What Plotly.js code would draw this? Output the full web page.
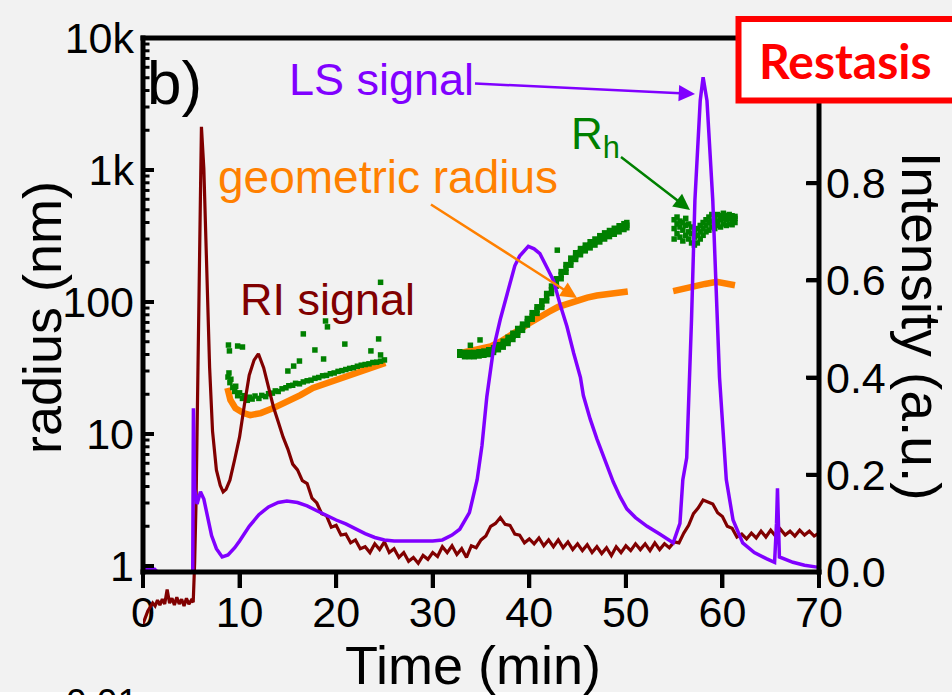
<!DOCTYPE html>
<html>
<head>
<meta charset="utf-8">
<script src="https://cdn.plot.ly/plotly-3.0.1.min.js"></script>
<style>html,body{margin:0;padding:0;background:#f2f2f2;}#chart{width:952px;height:695px;}</style>
</head>
<body>
<div id="chart"></div>
<script>
// ---------------- data ----------------
const xTickVals = [0, 10, 20, 30, 40, 50, 60, 70];
const radiusTickVals = [1, 10, 100, 1000, 10000];
const radiusTickText = ['1', '10', '100', '1k', '10k'];
const radiusMinorTicks = [2,3,4,5,6,7,8,9,20,30,40,50,60,70,80,90,200,300,400,500,600,700,800,900,2000,3000,4000,5000,6000,7000,8000,9000];
const intensityTickVals = [0, 0.2, 0.4, 0.6, 0.8];

// RI signal (intensity, a.u.)
const riTime = [0,0.25,0.5,0.75,1,1.25,1.5,1.75,2,2.25,2.5,2.75,3,3.25,3.5,3.75,4,4.25,4.5,4.75,5,5.2,
  5.35,5.5,5.7,5.9,6.05,6.3,6.6,6.9,7.2,7.6,8.0,8.3,8.6,9.0,9.5,10,10.5,11,11.5,11.95,12.5,13,13.5,14,14.5,
  15,15.5,16,16.5,17,17.5,18,18.5,19,19.5,20,20.5,21,21.5,22,22.5,23,23.5,24,24.5,25,25.5,26,26.5,27,27.5,
  28,28.5,29,29.5,30,30.5,31,31.5,32,32.5,33,33.5,34,34.5,35,35.5,36,36.5,37,37.5,38,38.5,39,39.5,40,40.5,
  41,41.5,42,42.5,43,43.5,44,44.5,45,45.5,46,46.5,47,47.5,48,48.5,49,49.5,50,50.5,51,51.5,52,52.5,53,53.5,
  54,54.5,55,55.5,56,56.5,57,57.5,58,58.5,59,59.5,60,60.5,61,61.5,62,62.5,63,63.5,64,64.5,65,65.5,66,66.5,
  67,67.5,68,68.5,69,69.5,70];
const riIntensity = [-0.107,-0.092,-0.080,-0.072,-0.064,-0.070,-0.058,-0.068,-0.056,-0.066,-0.036,-0.064,-0.054,-0.068,-0.052,-0.066,-0.056,-0.070,-0.054,-0.066,-0.058,-0.062,
  0.02,0.15,0.46,0.77,0.916,0.83,0.60,0.42,0.29,0.21,0.178,0.165,0.170,0.189,0.232,0.278,0.344,0.405,0.436,0.449,0.42,0.379,0.34,0.309,0.278,
  0.253,0.222,0.210,0.188,0.182,0.152,0.142,0.120,0.116,0.092,0.096,0.076,0.078,0.060,0.066,0.048,0.052,0.040,0.058,0.046,0.062,0.040,0.048,0.030,0.040,0.022,
  0.030,0.018,0.034,0.026,0.040,0.032,0.052,0.040,0.054,0.036,0.048,0.030,0.054,0.050,0.066,0.074,0.094,0.100,0.112,0.098,0.096,0.078,0.076,0.060,0.068,0.058,
  0.070,0.054,0.066,0.052,0.066,0.050,0.062,0.046,0.058,0.044,0.056,0.040,0.052,0.038,0.050,0.034,0.052,0.040,0.054,0.044,0.058,0.046,0.058,0.044,0.060,0.046,
  0.058,0.050,0.062,0.060,0.080,0.096,0.120,0.132,0.148,0.144,0.140,0.122,0.114,0.094,0.090,0.072,0.078,0.068,0.080,0.070,0.084,0.072,0.086,0.074,0.088,0.076,
  0.084,0.074,0.086,0.076,0.084,0.074,0.080];

// LS signal (intensity, a.u.)
const lsTime = [0,1.2,1.5,5.15,5.22,5.35,5.6,5.95,6.3,6.7,7.1,7.6,8.2,8.8,9.5,10,11,12,13,14,14.9,16,17,18,19,20,21,22,23,24,25,26,28,30,31,32,32.8,
  33.8,34.6,35.1,35.6,36.3,37,37.7,38.5,39,39.9,40.5,41.1,42,42.5,43.2,43.9,44.6,45.3,45.6,46.3,47,47.8,48.7,49.4,50.1,51,52.2,53.5,54.9,
  55.6,55.9,56.3,56.6,56.8,57.15,57.7,58.0,58.4,59.0,59.5,59.7,60.4,61.1,62.1,63.3,64.6,65.4,65.6,65.7,65.8,65.9,67.3,68.5,69.8];
const lsIntensity = [0.008,0.006,0,0,0.337,0.17,0.14,0.165,0.15,0.11,0.075,0.048,0.031,0.035,0.05,0.064,0.094,0.118,0.134,0.143,0.146,0.143,0.136,0.126,0.116,0.107,0.099,0.089,0.079,0.071,0.066,0.064,0.064,0.064,0.066,0.076,0.088,
  0.122,0.19,0.26,0.36,0.46,0.52,0.57,0.63,0.65,0.67,0.665,0.655,0.62,0.60,0.55,0.505,0.45,0.40,0.363,0.315,0.274,0.23,0.185,0.155,0.13,0.112,0.094,0.078,0.06,
  0.10,0.19,0.235,0.395,0.52,0.765,0.97,1.018,0.97,0.765,0.52,0.40,0.19,0.107,0.06,0.04,0.027,0.020,0.10,0.172,0.10,0.031,0.02,0.014,0.010];

// geometric radius (nm)
const geoTime = [8.74,9.05,9.57,10.4,11.1,12.2,13.5,14.9,16.3,17.6,19.4,21.1,22.8,24.6,25.1,29,
  32.8,34,35,36,37,38,39,40,41,42,43,44,45,46,47,48,49,50.2,52,
  54.9,55.8,56.6,57.4,58.2,59.4,60.3,61.3];
const geoRadius = [22.3,18.1,15.7,14.4,13.9,14.4,15.7,17.5,19.7,22.3,24.8,27,29.5,33.3,34.5,null,
  41,42.5,44,46,50,55,62,69,77,84,92,98,104,108,112,115,118,120,null,
  121,126,130,134,137,142,139,134];

// hydrodynamic radius R_h (nm)
const rhTime = [
  // first peak: main band
  8.8,8.9,9.0,9.1,9.3,9.5,9.6,9.8,10.0,10.3,10.5,10.8,11.0,11.3,11.6,12.0,12.3,12.7,13.0,13.4,13.7,14.0,14.4,14.8,15.1,15.5,15.8,16.2,16.6,17.0,17.4,17.8,18.2,18.6,19.0,19.4,19.8,20.2,20.6,21.0,21.4,21.8,22.2,22.6,23.0,23.4,23.8,24.2,24.6,25.0,
  // first peak: scattered points
  8.85,8.95,9.8,10.3,15.0,15.6,16.2,16.6,17.8,18.7,18.9,19.1,20.9,23.6,24.4,24.6,24.6,
  // second peak
  32.8,32.8,32.8,33.3,33.3,33.3,33.8,33.8,33.8,34.3,34.3,34.3,34.8,34.8,34.8,35.3,35.3,35.3,35.8,35.8,35.8,36.3,36.3,36.3,
  36.8,36.8,36.8,37.3,37.3,37.3,37.8,37.8,37.8,38.3,38.3,38.3,38.8,38.8,38.8,39.3,39.3,39.3,39.8,39.8,39.8,40.3,40.3,40.3,
  40.8,40.8,40.8,41.3,41.3,41.3,41.8,41.8,41.8,42.3,42.3,42.3,42.8,42.8,42.8,43.3,43.3,43.3,43.8,43.8,43.8,44.3,44.3,44.3,
  44.8,44.8,44.8,45.3,45.3,45.3,45.8,45.8,45.8,46.3,46.3,46.3,46.8,46.8,46.8,47.3,47.3,47.3,47.8,47.8,47.8,48.3,48.3,48.3,
  48.8,48.8,48.8,49.3,49.3,49.3,49.8,49.8,49.8,50.1,50.1,50.1,33.9,34.9,42.9,
  // third peak
  55.0,55.0,55.0,55.3,55.3,55.3,55.6,55.6,55.6,55.9,55.9,55.9,56.2,56.2,56.2,56.5,56.5,56.5,56.8,56.8,56.8,57.1,57.1,57.1,
  57.4,57.4,57.4,57.7,57.7,57.7,58.0,58.0,58.0,58.3,58.3,58.3,58.6,58.6,58.6,58.9,58.9,58.9,59.2,59.2,59.2,59.5,59.5,59.5,
  59.8,59.8,59.8,60.1,60.1,60.1,60.4,60.4,60.4,60.7,60.7,60.7,61.0,61.0,61.0,61.3,61.3,61.3];
const rhRadius = [
  27,29,24.5,26,22.5,21,23,19.5,20.5,18.6,19.5,18,19,18.4,19.4,18.6,19.6,19.2,20.2,20.4,21.2,21,22,22.4,23.2,23.4,24.2,24,24.8,25.3,25.6,26.4,26.8,27.6,27.8,28.6,29,29.8,30.2,30.8,31.4,31.8,32.6,33.2,33.6,34,34.8,35,35.6,36.4,
  47.2,42.6,46.4,45.6,30,32.7,35.7,57.3,43.3,37,71.8,64.8,48,42.6,52.5,39.7,141,
  39.5,40.5,42,38.5,40,41.5,38.5,40,41.5,38.5,40,41.5,39,40.5,42,39.5,41,42.5,40,41.5,43.5,41.5,43,45,
  43.5,45.5,47.5,45.5,48,50.5,48.5,51,54,52,55,58,56,59,63,61,64.5,68,67,71,75,74,78,83,
  82,87,92,91,96,102,102,109,116,116,124,132,132,140,150,150,160,170,168,180,192,190,202,215,
  210,222,236,228,240,254,244,256,270,257,270,286,270,285,300,285,300,318,300,316,334,313,330,348,
  326,344,362,340,358,378,354,372,392,365,382,400,47,51.6,247,
  300,360,420,330,390,440,310,370,410,290,350,400,320,380,430,300,340,390,280,330,370,270,310,350,
  280,320,360,300,340,380,320,360,400,340,380,420,350,400,440,370,410,460,360,420,450,380,410,460,
  370,420,450,390,430,470,380,420,450,390,430,460,385,420,450,400,430,445];

// ---------------- layout helpers (pixel -> paper) ----------------
const PL = 143, PR = 819, PT = 38, PB = 640;
function PX(x){ return (x - PL) / (PR - PL); }
function PY(y){ return (PB - y) / (PB - PT); }

const FONT = 'Liberation Sans, Arial, sans-serif';
const PURPLE = '#8000ff', DARKRED = '#800000', ORANGE = '#ff8000', GREEN = '#008000';

const traces = [
  { x: geoTime, y: geoRadius, xaxis: 'x', yaxis: 'y', type: 'scatter', mode: 'lines',
    line: { color: ORANGE, width: 6.5 }, connectgaps: false, name: 'geometric radius' },
  { x: rhTime, y: rhRadius, xaxis: 'x', yaxis: 'y', type: 'scatter', mode: 'markers',
    marker: { color: GREEN, size: 5.5, symbol: 'square', line: { width: 0 } }, name: 'R_h' },
  { x: riTime, y: riIntensity, xaxis: 'x', yaxis: 'y2', type: 'scatter', mode: 'lines',
    line: { color: DARKRED, width: 3.2 }, name: 'RI signal' },
  { x: lsTime, y: lsIntensity, xaxis: 'x', yaxis: 'y2', type: 'scatter', mode: 'lines',
    line: { color: PURPLE, width: 3.5 }, name: 'LS signal' }
];

const yDomLow = (PB - 572) / (PB - PT);
const intTop = (572 - 38) / 486;
const intBottom = -(PB - 572) / 486;
const radiusRange = [-0.0455, 4.0];
const xRange = [0, 70];

// axis value -> paper fraction, using the same ranges/domains given to the axes
function radiusPaper(v){ return yDomLow + (Math.log10(v) - radiusRange[0]) / (radiusRange[1] - radiusRange[0]) * (1 - yDomLow); }
function intensityPaper(v){ return (v - intBottom) / (intTop - intBottom); }
function timePaper(v){ return (v - xRange[0]) / (xRange[1] - xRange[0]); }

// frame lines and tick marks drawn above the traces
const K = '#000';
const frameShapes = [
  { type: 'line', xref: 'paper', yref: 'paper', x0: PX(143), x1: PX(143), y0: PY(574.5), y1: PY(35.5), line: { color: K, width: 5 } },
  { type: 'line', xref: 'paper', yref: 'paper', x0: PX(140.5), x1: PX(821.5), y0: PY(572), y1: PY(572), line: { color: K, width: 5 } },
  { type: 'line', xref: 'paper', yref: 'paper', x0: PX(819), x1: PX(819), y0: PY(574.5), y1: PY(35.5), line: { color: K, width: 5 } },
  { type: 'line', xref: 'paper', yref: 'paper', x0: PX(140.5), x1: PX(821.5), y0: PY(38), y1: PY(38), line: { color: K, width: 5 } }
];
const tickShapes = [];
radiusTickVals.forEach(function (v) {
  const p = radiusPaper(v);
  tickShapes.push({ type: 'line', xref: 'paper', yref: 'paper', x0: PX(143), x1: PX(154), y0: p, y1: p, line: { color: K, width: 4 } });
});
radiusMinorTicks.forEach(function (v) {
  const p = radiusPaper(v);
  tickShapes.push({ type: 'line', xref: 'paper', yref: 'paper', x0: PX(143), x1: PX(149.5), y0: p, y1: p, line: { color: K, width: 3 } });
});
intensityTickVals.forEach(function (v) {
  const p = intensityPaper(v);
  tickShapes.push({ type: 'line', xref: 'paper', yref: 'paper', x0: PX(806), x1: PX(819), y0: p, y1: p, line: { color: K, width: 4 } });
});
xTickVals.forEach(function (v) {
  const p = timePaper(v);
  tickShapes.push({ type: 'line', xref: 'paper', yref: 'paper', x0: p, x1: p, y0: PY(572), y1: PY(588), line: { color: K, width: 4 } });
});

const layout = {
  width: 952, height: 695,
  margin: { l: PL, r: 952 - PR, t: PT, b: 695 - PB, pad: 0 },
  paper_bgcolor: '#f2f2f2', plot_bgcolor: 'rgba(0,0,0,0)',
  showlegend: false, hovermode: false,
  font: { family: FONT, color: K },
  xaxis: {
    domain: [0, 1], range: xRange, anchor: 'y',
    tickmode: 'array', tickvals: xTickVals,
    ticks: 'outside', ticklen: 15, tickwidth: 4, tickcolor: K,
    ticklabelstandoff: -13,
    tickfont: { family: FONT, size: 43, color: K },
    showline: false, showgrid: false, zeroline: false
  },
  yaxis: {
    domain: [yDomLow, 1], type: 'log', range: radiusRange, anchor: 'x',
    tickmode: 'array', tickvals: radiusTickVals, ticktext: radiusTickText,
    ticks: 'inside', ticklen: 10, tickwidth: 4, tickcolor: K,
    ticklabelstandoff: 8,
    tickfont: { family: FONT, size: 43, color: K },
    showline: false, showgrid: false, zeroline: false
  },
  // intensity axis: spans the full plot height (so the RI trace can dip below the time axis) but its
  // ticks are only at 0.0 ... 0.8, all inside the radius-axis box
  yaxis2: {
    domain: [0, 1], range: [intBottom, intTop], anchor: 'x', side: 'right',
    tickmode: 'array', tickvals: intensityTickVals, tickformat: '.1f',
    ticks: 'inside', ticklen: 12, tickwidth: 4, tickcolor: K,
    ticklabelstandoff: 6,
    tickfont: { family: FONT, size: 43, color: K },
    showline: false, showgrid: false, zeroline: false
  },
  shapes: frameShapes.concat(tickShapes, [
    { type: 'rect', xref: 'paper', yref: 'paper', x0: PX(738.5), x1: PX(968), y0: PY(100.5), y1: PY(19), line: { color: '#ff0000', width: 6 }, fillcolor: '#ffffff' },
    { type: 'rect', xref: 'paper', yref: 'paper', x0: PX(-10), x1: PX(962), y0: PY(700), y1: PY(692), line: { width: 0 }, fillcolor: '#ffffff' }
  ]),
  annotations: [
    { text: 'b)', xref: 'paper', yref: 'paper', x: PX(145), y: PY(82), xanchor: 'left', yanchor: 'middle', showarrow: false, font: { family: FONT, size: 62, color: K } },
    // labels with arrows: (x, y) is the arrow head, (ax, ay) the text centre offset in pixels
    { text: 'LS signal', xref: 'paper', yref: 'paper', x: PX(695), y: PY(94), ax: 381 - 695, ay: 79 - 94, axref: 'pixel', ayref: 'pixel',
      showarrow: true, arrowhead: 2, arrowsize: 1.3, arrowwidth: 2.5, arrowcolor: PURPLE, standoff: 0, font: { family: FONT, size: 45, color: PURPLE } },
    { text: 'geometric radius', xref: 'paper', yref: 'paper', x: PX(577), y: PY(298), ax: 388 - 577, ay: 177 - 298, axref: 'pixel', ayref: 'pixel',
      showarrow: true, arrowhead: 2, arrowsize: 1.3, arrowwidth: 2.5, arrowcolor: ORANGE, standoff: 0, font: { family: FONT, size: 46, color: ORANGE } },
    { text: 'R<sub>h</sub>', xref: 'paper', yref: 'paper', x: PX(690), y: PY(210), ax: 595 - 690, ay: 137 - 210, axref: 'pixel', ayref: 'pixel',
      showarrow: true, arrowhead: 2, arrowsize: 1.3, arrowwidth: 2.5, arrowcolor: GREEN, standoff: 0, font: { family: FONT, size: 44, color: GREEN } },
    { text: 'RI signal', xref: 'paper', yref: 'paper', x: PX(327), y: PY(299), xanchor: 'center', yanchor: 'middle', showarrow: false, font: { family: FONT, size: 45, color: DARKRED } },
    { text: '<b>Restasis</b>', xref: 'paper', yref: 'paper', x: PX(845), y: PY(61), xanchor: 'center', yanchor: 'middle', showarrow: false, font: { family: 'Lato, Open Sans, sans-serif', size: 48, color: '#ff0000' } },
    { text: 'radius (nm)', xref: 'paper', yref: 'paper', x: PX(42), y: PY(317), xanchor: 'center', yanchor: 'middle', textangle: -90, showarrow: false, font: { family: FONT, size: 54, color: K } },
    { text: 'Intensity (a.u.)', xref: 'paper', yref: 'paper', x: PX(921), y: PY(326), xanchor: 'center', yanchor: 'middle', textangle: 90, showarrow: false, font: { family: FONT, size: 55, color: K } },
    { text: 'Time (min)', xref: 'paper', yref: 'paper', x: PX(473), y: PY(665), xanchor: 'center', yanchor: 'middle', showarrow: false, font: { family: FONT, size: 54, color: K } },
    { text: '0.01', xref: 'paper', yref: 'paper', x: PX(102), y: PY(680), xanchor: 'center', yanchor: 'top', showarrow: false, font: { family: FONT, size: 37, color: K } }
  ]
};

Plotly.newPlot('chart', traces, layout, { displayModeBar: false, staticPlot: true });
</script>
</body>
</html>
